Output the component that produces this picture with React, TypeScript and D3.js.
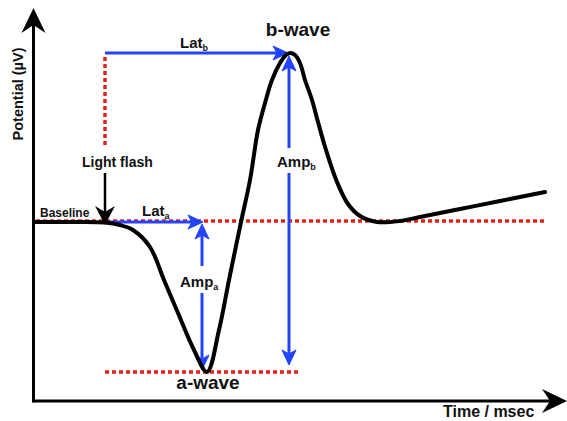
import React from "react";
import * as d3 from "d3";

// ERG waveform (arbitrary units: time in ms-like units, potential in µV-like units)
const time = [1, 18.5, 36, 43.5, 50, 58.5, 65.5, 72.5, 80.5, 87, 93, 98, 104, 108.5, 112.5, 116, 119.5, 123.5, 126.5, 128.5, 131, 133.5, 136, 139.5, 142.5, 146.5, 152, 157.5, 163.5, 172, 183.5, 193.5, 213.5, 233.5, 256];
const potential = [0, 0, -0.25, -1.5, -4, -12.5, -29, -45.5, -64, -75, -54, -29, 0, 21, 46, 59.5, 71, 79.5, 83.5, 84.5, 83.5, 79.5, 71, 61, 50, 36, 20, 9, 3, 0, 0.5, 2.5, 6.5, 10.5, 15];
const flashTime = [36];
const baselineValue = [0];
const labels = ["b-wave", "a-wave", "Light flash", "Baseline", "Potential (\u00b5V)", "Time / msec"];

const W = 567;
const H = 421;
const BLUE = "#2343ff";
const RED = "#e3211c";
const FONT = "'Liberation Sans', Arial, Helvetica, sans-serif";

function arrowHead(x: number, y: number, angle: number, len: number, half: number, notch: number) {
  const c = Math.cos(angle), s = Math.sin(angle);
  const pt = (a: number, b: number) => [x + a * c - b * s, y + a * s + b * c];
  const p1 = pt(-len, -half);
  const p2 = pt(-len + notch, 0);
  const p3 = pt(-len, half);
  return `M${x},${y}L${p1[0]},${p1[1]}L${p2[0]},${p2[1]}L${p3[0]},${p3[1]}Z`;
}

export default function App() {
  const x = d3.scaleLinear().domain([0, 267]).range([33, 567]);
  const y = d3.scaleLinear().domain([-75, 85]).range([372, 52]);
  const data = time.map((t, i) => [t, potential[i]] as [number, number]);
  const line = d3
    .line<[number, number]>()
    .x((d) => x(d[0]))
    .y((d) => y(d[1]))
    .curve(d3.curveCatmullRom.alpha(0.5));

  const aIdx = d3.minIndex(potential);
  const bIdx = d3.maxIndex(potential);
  const aT = time[aIdx], aV = potential[aIdx];
  const bT = time[bIdx], bV = potential[bIdx];
  const fx = x(flashTime[0]);
  const y0 = y(baselineValue[0]);
  const yA = y(aV);
  const yB = y(bV);
  const xA = x(aT) - 5;
  const xB = x(bT);

  const axisX0 = 33.5, axisY0 = 401;

  const up = -Math.PI / 2, down = Math.PI / 2, right = 0;

  return (
    <svg width={W} height={H} style={{ position: "absolute", left: 0, top: 0, background: "#fff" }} fontFamily={FONT} fontWeight="bold">
      {/* red dotted guides */}
      <g stroke={RED} strokeWidth={3.5} strokeDasharray="4 3" fill="none">
        <line x1={36} x2={545} y1={y0 - 1} y2={y0 - 1} />
        <line x1={fx} x2={fx} y1={yB + 4} y2={145} />
        <line x1={fx} x2={xB + 8} y1={yA} y2={yA} />
      </g>

      {/* blue measurement arrows */}
      <g stroke={BLUE} strokeWidth={3} fill="none">
        <line x1={fx} x2={xB - 8} y1={yB} y2={yB} />
        <line x1={fx} x2={xA - 6} y1={y0} y2={y0} />
        <line x1={xA} x2={xA} y1={y0 + 6} y2={266} />
        <line x1={xA} x2={xA} y1={293} y2={yA - 6} />
        <line x1={xB - 1} x2={xB - 1} y1={yB + 8} y2={148} />
        <line x1={xB - 1} x2={xB - 1} y1={173} y2={yA - 14} />
      </g>
      <g fill={BLUE} stroke={BLUE} strokeWidth={1} strokeLinejoin="round">
        <path d={arrowHead(xB - 2, yB, right, 15, 7, 4)} />
        <path d={arrowHead(xA + 1, y0, right, 15, 7, 4)} />
        <path d={arrowHead(xA, y0 + 2, up, 15, 7, 4)} />
        <path d={arrowHead(xA, yA - 2, down, 15, 7, 4)} />
        <path d={arrowHead(xB - 1, yB + 3, up, 15, 7, 4)} />
        <path d={arrowHead(xB - 1, yA - 7, down, 15, 7, 4)} />
      </g>

      {/* waveform */}
      <path d={line(data) || ""} fill="none" stroke="#000" strokeWidth={4} strokeLinejoin="round" strokeLinecap="round" />

      {/* light flash arrow */}
      <line x1={fx} x2={fx} y1={173} y2={212} stroke="#000" strokeWidth={2.5} />
      <path d={arrowHead(fx, y0 + 3, down, 19, 10, 6)} fill="#000" />

      {/* axes */}
      <g stroke="#000" strokeWidth={3} fill="none">
        <line x1={axisX0} x2={axisX0} y1={25} y2={axisY0 + 1.5} />
        <line x1={axisX0} x2={550} y1={axisY0} y2={axisY0} />
      </g>
      <path d={arrowHead(axisX0, 8, up, 25, 12, 8)} fill="#000" />
      <path d={arrowHead(567, axisY0, right, 25, 12, 8)} fill="#000" />

      {/* labels */}
      <g fill="#111">
        <text x={xB + 8} y={36} fontSize={19} textAnchor="middle">{labels[0]}</text>
        <text x={x(aT) + 1} y={389} fontSize={19} textAnchor="middle">{labels[1]}</text>
        <text x={82} y={167} fontSize={14}>{labels[2]}</text>
        <text x={40} y={217} fontSize={12}>{labels[3]}</text>
        <text x={180} y={48} fontSize={15}>
          Lat<tspan fontSize={9} dy={3}>b</tspan>
        </text>
        <text x={142} y={216} fontSize={15}>
          Lat<tspan fontSize={9} dy={3}>a</tspan>
        </text>
        <text x={180} y={287} fontSize={15}>
          Amp<tspan fontSize={9} dy={3}>a</tspan>
        </text>
        <text x={277} y={167} fontSize={15}>
          Amp<tspan fontSize={9} dy={3}>b</tspan>
        </text>
        <text transform="translate(23,94) rotate(-90)" fontSize={14.5} textAnchor="middle">{labels[4]}</text>
        <text x={443} y={417} fontSize={16}>{labels[5]}</text>
      </g>
    </svg>
  );
}
